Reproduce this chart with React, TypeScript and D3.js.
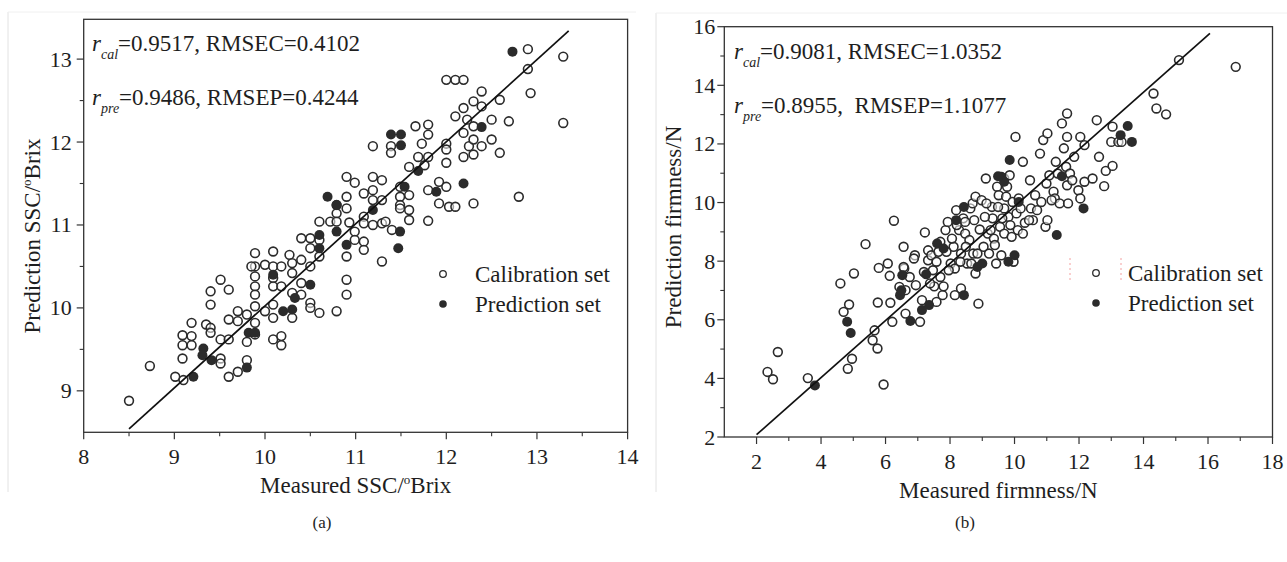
import React from 'react';
import * as d3 from 'd3';

const FONT = '"Liberation Serif", "Times New Roman", Times, serif';

// ---------- Panel (a): SSC ----------
const sscCalMeasured = [8.5,8.73,9.01,9.09,9.09,9.09,9.19,9.19,9.19,9.1,9.4,9.4,9.51,9.35,9.4,9.4,9.51,9.51,9.51,9.6,9.6,9.6,9.6,9.7,9.7,9.7,9.8,9.8,9.8,9.89,9.89,9.89,9.89,9.89,9.89,9.89,9.89,9.85,10,10,10.09,10.09,10.09,10.09,10.09,10.09,10.09,10.18,10.18,10.18,10.18,10.27,10.3,10.3,10.3,10.3,10.4,10.4,10.4,10.4,10.5,10.5,10.5,10.5,10.5,10.6,10.6,10.6,10.6,10.72,10.79,10.79,10.79,10.79,10.9,10.9,10.9,10.9,10.9,10.9,10.93,10.99,10.99,10.99,11.09,11.09,11.09,11.09,11.09,11.19,11.19,11.19,11.19,11.19,11.29,11.29,11.29,11.33,11.29,11.39,11.39,11.4,11.49,11.49,11.49,11.49,11.59,11.59,11.59,11.59,11.66,11.69,11.73,11.8,11.8,11.8,11.8,11.8,11.76,11.92,11.92,12,12,12,12,12,12.03,12.1,12.1,12.19,12.1,12.19,12.19,12.19,12.23,12.25,12.3,12.3,12.3,12.3,12.3,12.39,12.39,12.39,12.5,12.5,12.59,12.59,12.69,12.8,12.9,12.9,12.93,13.29,13.29];
const sscCalPredicted = [8.88,9.3,9.17,9.39,9.55,9.67,9.82,9.66,9.55,9.13,10.2,10.04,10.34,9.8,9.76,9.7,9.62,9.39,9.33,10.22,9.86,9.62,9.17,9.23,9.96,9.84,9.92,9.59,9.37,10.66,10.5,10.38,10.26,10.16,10.02,9.82,9.68,10.5,10.52,9.96,10.68,10.5,10.36,10.26,10.04,9.88,9.62,9.66,9.55,10.5,10.26,10.64,10.54,10.42,10.18,9.88,10.84,10.58,10.3,10.16,10.84,10.72,10.5,10.06,10,11.04,10.82,10.62,9.94,11.04,9.96,11.24,11.14,11.04,11.58,11.34,11.2,10.62,10.34,10.16,11.03,11.51,10.92,10.82,11.38,11.1,11.02,10.8,10.7,11.95,11.58,11.42,11.3,11,11.54,11.3,11.02,11.04,10.56,11.95,11.87,10.94,11.46,11.34,11.24,11.2,11.7,11.36,11.18,11.06,12.19,11.82,11.98,12.21,12.09,11.82,11.42,11.05,11.72,11.52,11.26,12.75,11.98,11.91,11.75,11.46,11.22,12.75,11.22,12.75,12.31,12.41,12.11,11.82,12.27,11.95,12.49,12.19,12.03,11.85,11.26,12.61,12.43,11.95,12.27,12.03,12.51,11.87,12.25,11.34,13.12,12.88,12.59,13.03,12.23];
const sscPreMeasured = [9.21,9.32,9.31,9.41,9.8,9.82,9.89,10.09,10.2,10.3,10.33,10.5,10.6,10.6,10.69,10.79,10.79,10.9,11.19,11.39,11.5,11.5,11.54,11.49,11.47,11.69,11.89,12.19,12.39,12.73];
const sscPrePredicted = [9.17,9.51,9.43,9.37,9.28,9.7,9.7,10.4,9.96,9.98,10.12,10.28,10.88,10.72,11.34,11.24,10.92,10.76,11.18,12.09,12.09,11.96,11.46,10.92,10.72,11.65,11.4,11.5,12.18,13.09];
const sscFitX = [8.5, 13.35];
const sscFitY = [8.54, 13.34];
const sscXTicks = [8, 9, 10, 11, 12, 13, 14];
const sscYTicks = [9, 10, 11, 12, 13];

// ---------- Panel (b): firmness ----------
const firmCalMeasured = [2.34,2.51,2.66,3.59,4.6,4.7,4.87,4.83,4.96,5.02,5.38,5.6,5.66,5.75,5.76,5.79,5.94,6.07,6.13,6.15,6.21,6.26,6.43,6.56,6.58,6.62,6.75,6.91,6.94,7.07,7.13,7.22,7.32,7.32,7.42,7.47,7.51,7.58,7.64,7.7,7.77,7.8,7.86,7.93,8.02,8.11,8.15,8.15,8.19,8.28,8.34,8.34,8.41,8.47,8.53,8.6,8.63,8.7,8.72,8.79,8.79,8.88,8.92,8.98,9.04,9.11,9.17,9.21,9.3,9.32,9.36,9.43,9.46,9.51,9.55,9.59,9.68,9.68,9.68,9.74,9.81,9.85,9.94,9.97,10.03,10.06,10.1,10.13,10.26,10.32,10.48,10.51,10.57,10.7,10.79,10.83,10.89,10.96,10.99,11.02,11.02,11.08,11.21,11.25,11.28,11.4,11.47,11.53,11.6,11.63,11.63,11.63,11.66,11.72,11.85,11.98,12.04,12.04,12.17,12.17,12.42,12.55,12.62,12.78,12.83,13,13.04,13.04,13.22,13.32,14.31,14.4,14.7,15.1,16.86,6.56,6.62,6.88,7.19,7.38,7.58,7.7,7.89,7.96,8.06,8.21,8.32,8.47,8.49,8.66,8.75,8.85,9.08,9.13,9.26,9.39,9.49,9.62,9.77,9.87,9.91,10.19,10.26,10.45,10.64,11.15,11.34,11.79];
const firmCalPredicted = [4.22,3.97,4.9,4.01,7.24,6.27,6.52,4.33,4.67,7.58,8.58,5.3,5.64,5.02,6.59,7.77,3.79,7.92,7.5,6.58,5.93,9.38,7.12,8.49,7.75,6.21,7.46,8.2,7.18,5.93,6.67,8.98,8.37,8.03,8.2,7.69,7.14,6.61,8.32,7.46,6.84,7.14,9.06,9.34,7.92,8.49,6.84,7.75,9.74,9.06,8.26,7.07,9.46,8.94,7.92,8.72,9.8,9.97,8.26,10.2,7.58,6.55,9.08,10.08,8.49,10.82,8.94,8.26,9.85,9.46,8.77,7.92,10.54,10.25,9.17,8.2,10.82,9.8,8.94,10.2,9.51,10.93,10.02,7.98,12.24,9.63,9.06,10.14,11.39,9.31,10.76,9.8,9.4,9.74,11.67,10.02,12.13,9.17,10.65,12.36,9.4,10.93,10.37,10.14,11.39,9.97,12.7,11.85,11.22,13.04,12.24,10.59,9.97,10.99,11.56,10.42,12.24,10.14,11.96,10.71,10.82,12.81,11.56,10.56,11.08,12.07,12.59,11.25,12.07,12.07,13.72,13.21,13.01,14.86,14.63,7.8,7.01,8.09,7.63,7.24,7.98,8.66,8.32,7.69,8.77,9.23,7.98,9.34,8.49,7.92,9.4,8.26,9.51,9.97,9.06,8.55,9.85,9.46,10.54,9.23,8.83,9.8,8.94,9.4,10.25,10.08,10.99,10.76];
const firmPreMeasured = [3.81,4.81,4.92,6.52,6.45,6.49,6.77,7.13,7.26,7.35,7.6,7.8,8.19,8.43,8.43,8.85,9,9.59,9.68,9.85,9.81,10,10.13,11.31,11.47,12.14,13.29,13.51,13.64,9.49];
const firmPrePredicted = [3.76,5.93,5.55,7.52,6.84,7.01,5.96,6.33,7.55,6.5,8.6,8.43,9.4,9.85,6.84,7.8,7.92,10.88,10.71,11.45,7.98,8.2,10.02,8.89,10.9,9.8,12.3,12.61,12.07,10.9];
const firmFitX = [2.0, 16.06];
const firmFitY = [2.08, 15.77];
const firmXTicks = [2, 4, 6, 8, 10, 12, 14, 16, 18];
const firmYTicks = [2, 4, 6, 8, 10, 12, 14, 16];

const legendLabels = ['Calibration set', 'Prediction set'];

const INK = '#1e1e1e';
const MARK = '#2b2b2b';

type PanelProps = {
  x: d3.ScaleLinear<number, number>;
  y: d3.ScaleLinear<number, number>;
  xTicks: number[];
  yTicks: number[];
  xMinor: number[];
  yMinor: number[];
  calX: number[];
  calY: number[];
  preX: number[];
  preY: number[];
  fitX: number[];
  fitY: number[];
  yLabelGap: number;
  xTitle: React.ReactNode;
  yTitle: React.ReactNode;
  yTitleX: number;
  yTitleY: number;
  stat1: [string, string];
  stat2: [string, string];
  statX: number;
  legendX: number;
  legendY: number;
};

const T = (props: any) => <text fontFamily={FONT} fill={INK} {...props} />;

function Panel(p: PanelProps) {
  const [x0, x1] = p.x.range();
  const [y0, y1] = p.y.range(); // y0 bottom, y1 top
  const line = d3.line<number>().x((_, i) => p.x(p.fitX[i])).y((_, i) => p.y(p.fitY[i]));
  const midX = (x0 + x1) / 2;
  return (
    <g>
      {/* points */}
      {p.calX.map((v, i) => (
        <circle key={'c' + i} cx={p.x(v)} cy={p.y(p.calY[i])} r={4.4} fill="white" fillOpacity={0.55} stroke={MARK} strokeWidth={1.6} />
      ))}
      {p.preX.map((v, i) => (
        <circle key={'p' + i} cx={p.x(v)} cy={p.y(p.preY[i])} r={5} fill={MARK} stroke="none" />
      ))}
      <path d={line(p.fitX) || ''} fill="none" stroke="#111" strokeWidth={1.7} />
      {/* frame */}
      <rect x={x0} y={y1} width={x1 - x0} height={y0 - y1} fill="none" stroke="#333" strokeWidth={1.3} />
      {/* x ticks */}
      {p.xTicks.map((t) => (
        <g key={'xt' + t}>
          <line x1={p.x(t)} x2={p.x(t)} y1={y0} y2={y0 + 7} stroke="#333" strokeWidth={1.2} />
          <T x={p.x(t)} y={y0 + 32} textAnchor="middle" fontSize={22}>{t}</T>
        </g>
      ))}
      {p.xMinor.map((t) => (
        <line key={'xm' + t} x1={p.x(t)} x2={p.x(t)} y1={y0} y2={y0 + 4} stroke="#333" strokeWidth={1.1} />
      ))}
      {p.yTicks.map((t) => (
        <g key={'yt' + t}>
          <line x1={x0} x2={x0 - 7} y1={p.y(t)} y2={p.y(t)} stroke="#333" strokeWidth={1.2} />
          <T x={x0 - p.yLabelGap} y={p.y(t) + 7.5} textAnchor="end" fontSize={22}>{t}</T>
        </g>
      ))}
      {p.yMinor.map((t) => (
        <line key={'ym' + t} x1={x0} x2={x0 - 4} y1={p.y(t)} y2={p.y(t)} stroke="#333" strokeWidth={1.1} />
      ))}
      {/* titles */}
      <T x={midX} y={y0 + 61} textAnchor="middle" fontSize={23}>{p.xTitle}</T>
      <T transform={`translate(${p.yTitleX},${p.yTitleY}) rotate(-90)`} textAnchor="middle" fontSize={23}>{p.yTitle}</T>
      {/* stats */}
      <T x={p.statX} y={y1 + 32} fontSize={23} style={{ whiteSpace: 'pre' }}>
        <tspan fontStyle="italic">r</tspan>
        <tspan fontStyle="italic" fontSize={14} dy={8}>{p.stat1[0]}</tspan>
        <tspan dy={-8}>{p.stat1[1]}</tspan>
      </T>
      <T x={p.statX} y={y1 + 86} fontSize={23} style={{ whiteSpace: 'pre' }}>
        <tspan fontStyle="italic">r</tspan>
        <tspan fontStyle="italic" fontSize={14} dy={8}>{p.stat2[0]}</tspan>
        <tspan dy={-8}>{p.stat2[1]}</tspan>
      </T>
      {/* legend */}
      <circle cx={p.legendX} cy={p.legendY} r={3.3} fill="white" stroke={MARK} strokeWidth={1.3} />
      <circle cx={p.legendX} cy={p.legendY + 30} r={3.8} fill={MARK} />
      <T x={p.legendX + 32} y={p.legendY + 8} fontSize={23}>{legendLabels[0]}</T>
      <T x={p.legendX + 32} y={p.legendY + 38} fontSize={23}>{legendLabels[1]}</T>
    </g>
  );
}

const deg = (pre: string, post: string) => (
  <>
    {pre}
    <tspan fontSize={13} dy={-9}>o</tspan>
    <tspan dy={9}>{post}</tspan>
  </>
);

export default function App() {
  const xa = d3.scaleLinear().domain([8, 14]).range([83.7, 627.6]);
  const ya = d3.scaleLinear().domain([8.5, 13.48]).range([432.3, 19.3]);
  const xb = d3.scaleLinear().domain([1, 18]).range([724.3, 1272.5]);
  const yb = d3.scaleLinear().domain([2, 16]).range([437, 26.7]);

  const half = (ticks: number[]) => ticks.slice(0, -1).map((t, i) => (t + ticks[i + 1]) / 2);

  return (
    <svg
      width={1287}
      height={562}
      style={{ position: 'absolute', left: 0, top: 0, background: 'white' }}
    >
      <rect x={0} y={0} width={1287} height={562} fill="white" />
      {/* faint image borders */}
      <line x1={8} x2={8} y1={12} y2={492} stroke="#e2e2e2" strokeWidth={1} />
      <line x1={8} x2={636} y1={12} y2={12} stroke="#f0f0f0" strokeWidth={1} />
      <line x1={656} x2={656} y1={13} y2={492} stroke="#e2e2e2" strokeWidth={1} />
      <line x1={656} x2={1287} y1={13} y2={13} stroke="#f0f0f0" strokeWidth={1} />

      <Panel
        x={xa}
        y={ya}
        xTicks={sscXTicks}
        yTicks={sscYTicks}
        xMinor={half(sscXTicks)}
        yMinor={half(sscYTicks)}
        calX={sscCalMeasured}
        calY={sscCalPredicted}
        preX={sscPreMeasured}
        preY={sscPrePredicted}
        fitX={sscFitX}
        fitY={sscFitY}
        yLabelGap={12}
        xTitle={deg('Measured SSC/', 'Brix')}
        yTitle={deg('Prediction SSC/', 'Brix')}
        yTitleX={40}
        yTitleY={236}
        stat1={['cal', '=0.9517, RMSEC=0.4102']}
        stat2={['pre', '=0.9486, RMSEP=0.4244']}
        statX={92}
        legendX={443}
        legendY={274}
      />
      <Panel
        x={xb}
        y={yb}
        xTicks={firmXTicks}
        yTicks={firmYTicks}
        xMinor={half(firmXTicks)}
        yMinor={half(firmYTicks)}
        calX={firmCalMeasured}
        calY={firmCalPredicted}
        preX={firmPreMeasured}
        preY={firmPrePredicted}
        fitX={firmFitX}
        fitY={firmFitY}
        yLabelGap={9}
        xTitle="Measured firmness/N"
        yTitle="Prediction firmness/N"
        yTitleX={681}
        yTitleY={227}
        stat1={['cal', '=0.9081, RMSEC=1.0352']}
        stat2={['pre', '=0.8955,  RMSEP=1.1077']}
        statX={734}
        legendX={1096}
        legendY={273}
      />
      {/* stray red dotted marks near legend (b) */}
      <line x1={1070} x2={1070} y1={258} y2={283} stroke="#f3a0a0" strokeWidth={1} strokeDasharray="2,3" />
      <line x1={1121} x2={1121} y1={258} y2={283} stroke="#f3a0a0" strokeWidth={1} strokeDasharray="2,3" />

      <T x={322} y={528} textAnchor="middle" fontSize={17}>(a)</T>
      <T x={965} y={528} textAnchor="middle" fontSize={17}>(b)</T>
    </svg>
  );
}
